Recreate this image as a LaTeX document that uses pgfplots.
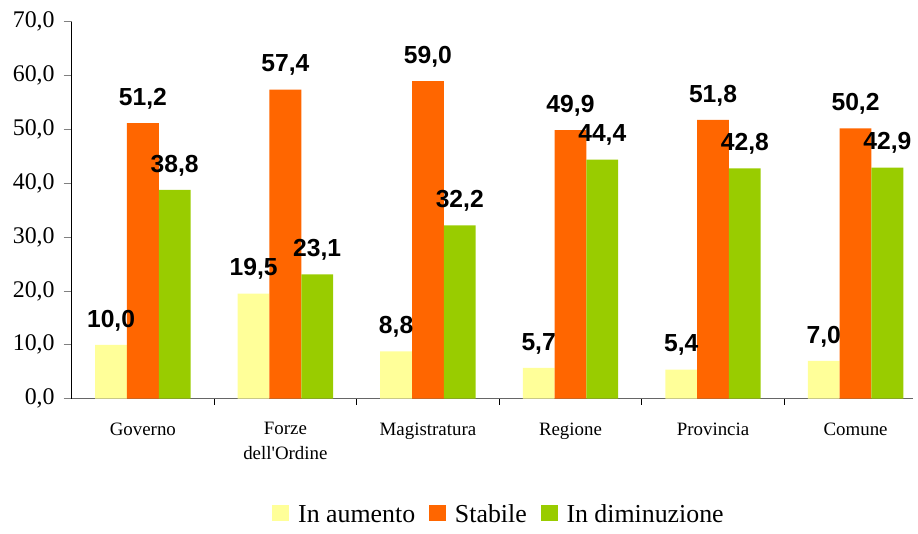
\documentclass[border=0pt]{standalone}
\usepackage{fontspec}
\setmainfont{Liberation Serif}
\newfontfamily\labfont{Liberation Sans}
\usepackage{pgfplots}
\pgfplotsset{compat=1.18}
\definecolor{cy}{HTML}{FFFF99}
\definecolor{co}{HTML}{FF6600}
\definecolor{cg}{HTML}{99CC00}
\begin{document}
\begin{tikzpicture}
\begin{axis}[
  name=ax,
  scale only axis, width=423pt, height=189.5pt,
  xmin=-0.5, xmax=5.4, ymin=0, ymax=70,
  ybar=0pt, bar width=16pt,
  axis x line*=bottom, axis y line*=left,
  x axis line style={draw=gray!80!black},
  y axis line style={draw=black},
  ytick={0,10,...,70},
  yticklabel style={font=\fontsize{12}{14}\selectfont, xshift=-1pt,
    /pgf/number format/fixed, /pgf/number format/fixed zerofill, /pgf/number format/precision=1,
    /pgf/number format/use comma, /pgf/number format/assume math mode=true},
  y tick style={draw=gray, thin},
  major tick length=4pt,
  tick align=outside,
  xtick={0,...,5},
  xticklabels={Governo,{Forze\\dell\textquotesingle Ordine},Magistratura,Regione,Provincia,Comune},
  xticklabel style={align=center, font=\fontsize{9.5}{12.5}\selectfont, yshift=-4.5pt},
  major x tick style={draw=none},
  minor xtick={0.5,1.5,2.5,3.5,4.5},
  minor x tick style={draw=black, thin},
  minor tick length=3pt,
  nodes near coords,
  nodes near coords style={font=\labfont\bfseries\fontsize{12.4}{14}\selectfont, yshift=3.5pt,
    /pgf/number format/fixed, /pgf/number format/fixed zerofill, /pgf/number format/precision=1,
    /pgf/number format/use comma, /pgf/number format/assume math mode=true},
  clip=false,
  legend columns=3,
  legend style={draw=none, at={(0.5,-0.309)}, anchor=center, xshift=4pt, font=\fontsize{13}{15}\selectfont,
    /tikz/every odd column/.append style={column sep=2.5pt},
    /tikz/every even column/.append style={column sep=5pt}},
  legend image code/.code={\fill[#1] (0pt,-3pt) rectangle (8.5pt,5pt);},
]
\addplot[fill=cy, draw=none] coordinates {(0,10.0) (1,19.5) (2,8.8) (3,5.7) (4,5.4) (5,7.0)};
\addplot[fill=co, draw=none] coordinates {(0,51.2) (1,57.4) (2,59.0) (3,49.9) (4,51.8) (5,50.2)};
\addplot[fill=cg, draw=none] coordinates {(0,38.8) (1,23.1) (2,32.2) (3,44.4) (4,42.8) (5,42.9)};
\legend{In aumento,Stabile,In diminuzione}
\end{axis}
\path ([xshift=-36pt,yshift=-61.5pt]ax.south west) rectangle ([yshift=11pt]ax.north east);
\end{tikzpicture}
\end{document}
